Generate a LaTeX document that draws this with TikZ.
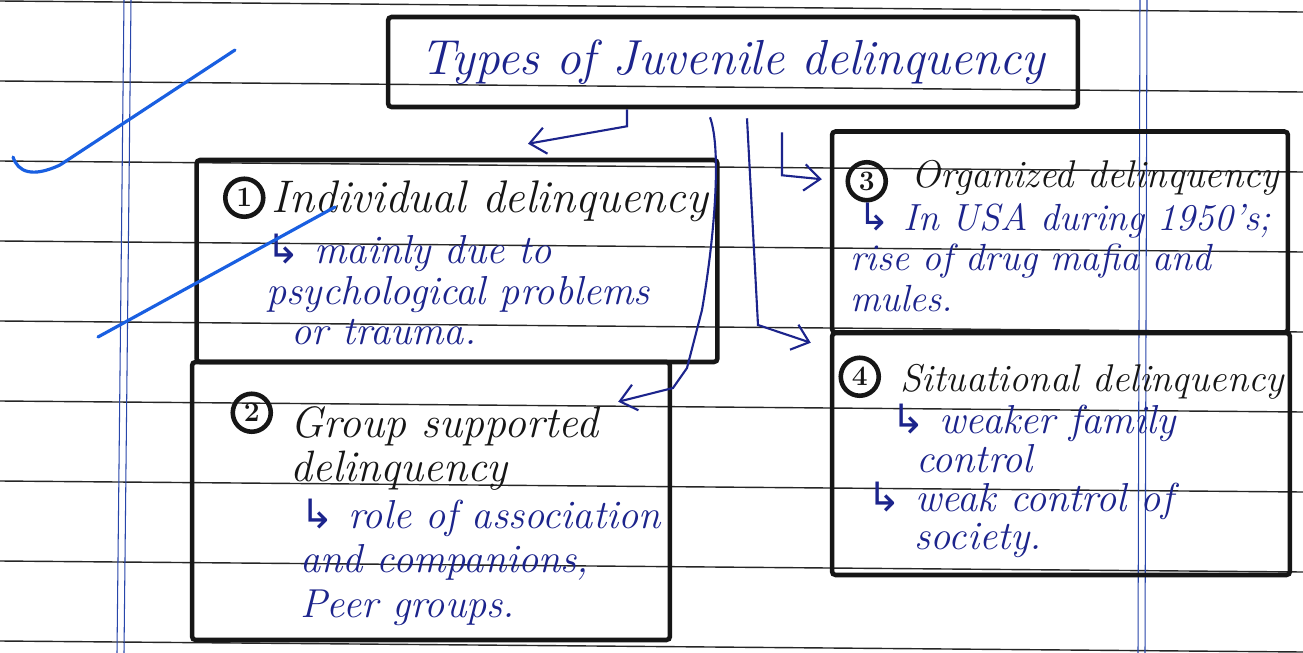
\documentclass[tikz,border=0pt]{standalone}
\usepackage{fontspec}
\newfontfamily\symfont{DejaVu Sans}
\usepackage{tikz}
\usetikzlibrary{arrows.meta,positioning}
\definecolor{ink}{RGB}{28,36,140}
\definecolor{pen}{RGB}{22,22,22}
\definecolor{marginblue}{RGB}{40,70,170}
\definecolor{tickblue}{RGB}{25,95,225}
\newcommand{\subarr}{{\symfont ↳}}

\begin{document}
\begin{tikzpicture}[x=0.02cm, y=-0.02cm]
\tikzstyle{box}=[draw=pen, line width=2.6pt, rounded corners=2pt, inner sep=0pt]
\tikzstyle{num}=[draw=pen, circle, line width=2.6pt, inner sep=0pt, minimum size=0.76cm, text=pen, font=\bfseries\fontsize{16}{16}\selectfont]
\tikzstyle{head}=[anchor=base west, inner sep=0pt, align=left, text=pen, font=\itshape\fontsize{22}{25}\selectfont]
\tikzstyle{body}=[anchor=base west, inner sep=0pt, align=left, text=ink, font=\itshape\fontsize{23}{23}\selectfont]
\tikzstyle{arr}=[draw=ink, line width=1.2pt, -{Straight Barb[length=9pt,width=15pt]}]
\tikzstyle{rule}=[line width=0.8pt, black!85]
\tikzstyle{margline}=[line width=0.6pt, marginblue]
\tikzstyle{check}=[tickblue, line width=1.8pt, line cap=round]

% paper
\fill[white] (0,0) rectangle (1303,653);
\useasboundingbox (0,0) rectangle (1303,653);
\foreach \k in {0,...,8}
  \draw[rule] (0,{1+80*\k}) -- (1303,{12+80*\k});
\foreach \dx in {0,7} {
  \draw[margline] ({124+\dx},0) -- ({117+\dx},653);
  \draw[margline] ({1140+\dx},0) -- ({1138+\dx},653);
}

\node[box, minimum width=13.8cm, minimum height=1.8cm, text=ink, font=\itshape\fontsize{28}{30}\selectfont] (title) at (733,62) {Types of Juvenile delinquency};

\node[box, minimum width=10.42cm, minimum height=4.04cm] (b1) at (457,261) {};
\node[box, minimum width=9.56cm, minimum height=5.56cm] (b2) at (431,501) {};
\node[box, minimum width=9.12cm, minimum height=4.02cm] (b3) at (1060,232) {};
\node[box, minimum width=9.16cm, minimum height=4.84cm] (b4) at (1061,454) {};

% box 1
\node[num] (n1) at ([shift={(50,40)}]b1.north west) {1};
\node[head, font=\itshape\fontsize{26}{26}\selectfont] (h1) at ([shift={(6,15)}]n1.east) {Individual delinquency};
\node[body] (t1) at ([shift={(72,187)}]b1.north west) {\subarr\ mainly due to\\psychological problems\\\hspace*{14pt}or trauma.};

% box 2
\node[num] (n2) at ([shift={(62,53)}]b2.north west) {2};
\node[head, font=\itshape\fontsize{25}{25}\selectfont] (h2) at ([shift={(17,69)}]n2.east) {Group supported\\delinquency};
\node[body, font=\itshape\fontsize{23}{25.5}\selectfont] (t2) at ([shift={(110,258)}]b2.north west) {\subarr\ role of association\\and companions,\\Peer groups.};

% box 3
\node[num] (n3) at ([shift={(37,52)}]b3.north west) {3};
\node[head] (h3) at ([shift={(23,6)}]n3.east) {Organized delinquency};
\node[body, font=\itshape\fontsize{21.5}{23}\selectfont] (t3) at ([shift={(20,182)}]b3.north west) {\hspace*{5pt}\subarr\ In USA during 1950's;\\rise of drug mafia and\\mules.};

% box 4
\node[num] (n4) at ([shift={(30,46)}]b4.north west) {4};
\node[head] (h4) at ([shift={(19,15)}]n4.east) {Situational delinquency};
\node[body, font=\itshape\fontsize{23}{22}\selectfont] (t4) at ([shift={(37,219)}]b4.north west) {\hspace*{14pt}\subarr\ weaker family\\\hspace*{28pt}control\\\subarr\ weak control of\\\hspace*{27pt}society.};

% arrows
\coordinate (s1) at ([shift={(-106,0)}]title.south);
\coordinate (s2) at ([shift={(-23,8)}]title.south);
\coordinate (s3) at ([shift={(14,9)}]title.south);
\coordinate (s4) at ([shift={(49,23)}]title.south);
\draw[arr] (s1) -- ++(0,17) -- ([shift={(71,-14)}]b1.north);
\draw[arr] (s2) .. controls (722,150) and (714,240) .. (702,310) -- (687,368) -- (673,388) -- ([shift={(-54,42)}]b2.north east);
\draw[arr] (s3) -- (758,325) -- ([shift={(-19,12)}]b4.north west);
\draw[arr] (s4) -- ++(0,43) -- ([shift={(-8,50)}]b3.north west);

% marks
\draw[check] (13,157) .. controls (18,172) and (32,178) .. (60,165) -- (235,50);
\draw[check] (98,337) -- (335,207);
\end{tikzpicture}
\end{document}
